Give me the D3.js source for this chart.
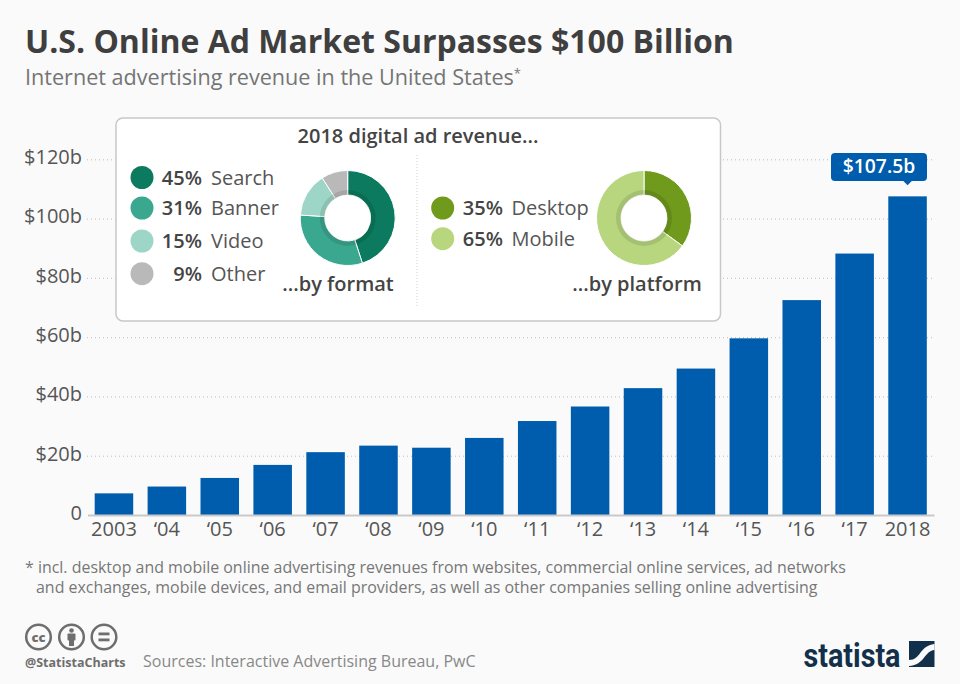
<!DOCTYPE html>
<html lang="en">

<head>
  <meta charset="UTF-8">
  <title>U.S. Online Ad Market Surpasses $100 Billion</title>
  <style>
    * {
      box-sizing: border-box;
    }

    html, body {
      margin: 0;
      padding: 0;
      background: #fafafa;
    }

    svg {
      display: block;
      font-family: "Open Sans", sans-serif;
    }

    .grid .domain {
      display: none;
    }

    .grid line {
      stroke: #bdbdbd;
      stroke-dasharray: 1 3;
    }

    .grid text, .years text {
      fill: #555;
      font-family: "Open Sans", sans-serif;
      font-size: 20px;
    }

    .years line {
      display: none;
    }

    .years .domain {
      stroke: #c9c9c9;
      stroke-width: 2px;
    }
  </style>
</head>

<body>
  <svg id="chart" width="960" height="684"></svg>

  <script src="https://cdnjs.cloudflare.com/ajax/libs/d3/7.8.5/d3.min.js"></script>
  <script>
    'use strict';

    const years = ['2003', '‘04', '‘05', '‘06', '‘07', '‘08', '‘09', '‘10', '‘11', '‘12', '‘13', '‘14', '‘15', '‘16', '‘17', '2018'];
    const revenue = [7.3, 9.6, 12.5, 16.9, 21.2, 23.4, 22.7, 26, 31.7, 36.6, 42.8, 49.4, 59.6, 72.5, 88.2, 107.5];
    const yTicks = [0, 20, 40, 60, 80, 100, 120];

    const formatLabels = ['Search', 'Banner', 'Video', 'Other'];
    const formatShares = [45, 31, 15, 9];
    const formatColors = ['#0b7a5e', '#3aa88f', '#9dd6c6', '#b9b9b9'];

    const platformLabels = ['Desktop', 'Mobile'];
    const platformShares = [35, 65];
    const platformColors = ['#6f9a1c', '#b7d67e'];

    const footnoteLines = [
      '* incl. desktop and mobile online advertising revenues from websites, commercial online services, ad networks',
      'and exchanges, mobile devices, and email providers, as well as other companies selling online advertising'
    ];

    const svg = d3.select('#chart');

    // scales
    const x = d3.scaleBand()
      .domain(years)
      .range([87.5, 934])
      .paddingInner(0.272)
      .paddingOuter(0.136);

    const y = d3.scaleLinear()
      .domain([0, 120])
      .range([515, 159.3]);

    // title
    svg.append('text')
      .attr('x', 25).attr('y', 52.5)
      .attr('font-size', 32).attr('font-weight', 700).attr('fill', '#3f3f3f')
      .text('U.S. Online Ad Market Surpasses $100 Billion');

    const sub = svg.append('text')
      .attr('x', 25).attr('y', 85)
      .attr('font-size', 21.6).attr('fill', '#757575')
      .text('Internet advertising revenue in the United States');
    sub.append('tspan').attr('dy', -7).attr('font-size', 13).text('*');

    // y axis + grid
    svg.append('g')
      .attr('class', 'grid')
      .attr('transform', 'translate(87,0)')
      .call(d3.axisLeft(y)
        .tickValues(yTicks)
        .tickSize(-847)
        .tickPadding(5)
        .tickFormat(d => d === 0 ? '0' : `$${d}b`))
      .call(g => g.selectAll('.tick').filter(d => d === 0).select('line').remove())
      .call(g => g.selectAll('.tick text').attr('dy', '0.22em'));

    // bars
    svg.append('g')
      .selectAll('rect')
      .data(revenue)
      .join('rect')
      .attr('x', (d, i) => x(years[i]))
      .attr('y', d => y(d))
      .attr('width', x.bandwidth())
      .attr('height', d => y(0) - y(d))
      .attr('fill', '#005cad');

    // x axis
    svg.append('g')
      .attr('class', 'years')
      .attr('transform', `translate(0,${y(0)})`)
      .call(d3.axisBottom(x).tickSize(0).tickPadding(7).tickSizeOuter(0));

    // label over last bar
    const lastX = x(years[years.length - 1]) + x.bandwidth() / 2;
    const lastY = y(revenue[revenue.length - 1]);
    svg.append('path')
      .attr('d', `M${lastX - 5},${lastY - 16} L${lastX},${lastY - 11} L${lastX + 5},${lastY - 16} Z`)
      .attr('fill', '#005cad');
    svg.append('rect')
      .attr('x', 831).attr('y', 153)
      .attr('width', 96).attr('height', 28).attr('rx', 4)
      .attr('fill', '#005cad');
    svg.append('text')
      .attr('x', 879).attr('y', 173)
      .attr('text-anchor', 'middle')
      .attr('font-size', 19.3).attr('font-weight', 600).attr('fill', '#fff')
      .text(`$${revenue[revenue.length - 1]}b`);

    // inset panel
    svg.append('rect')
      .attr('x', 116).attr('y', 118)
      .attr('width', 604.5).attr('height', 203).attr('rx', 7)
      .attr('fill', '#fff').attr('stroke', '#c8c8c8').attr('stroke-width', 1.5);

    svg.append('line')
      .attr('x1', 417).attr('x2', 417).attr('y1', 155).attr('y2', 307)
      .attr('stroke', '#cfcfcf').attr('stroke-dasharray', '1 2');

    svg.append('text')
      .attr('x', 418).attr('y', 143)
      .attr('text-anchor', 'middle')
      .attr('font-size', 20).attr('font-weight', 600).attr('fill', '#444')
      .text('2018 digital ad revenue...');

    function legend(labels, shares, colors, rows, cx, pctEnd, labelX) {
      const g = svg.append('g');
      labels.forEach((label, i) => {
        g.append('circle')
          .attr('cx', cx).attr('cy', rows[i]).attr('r', 11.5)
          .attr('fill', colors[i]);
        g.append('text')
          .attr('x', pctEnd).attr('y', rows[i] + 7)
          .attr('text-anchor', 'end')
          .attr('font-size', 20).attr('font-weight', 600).attr('fill', '#444')
          .text(`${shares[i]}%`);
        g.append('text')
          .attr('x', labelX).attr('y', rows[i] + 7)
          .attr('font-size', 20).attr('fill', '#555')
          .text(label);
      });
    }

    function donut(shares, colors, cx, cy, caption, captionX) {
      const g = svg.append('g').attr('transform', `translate(${cx},${cy})`);
      const pie = d3.pie().sort(null);
      const arc = d3.arc().innerRadius(23).outerRadius(47.5);
      g.selectAll('path.slice')
        .data(pie(shares))
        .join('path')
        .attr('class', 'slice')
        .attr('d', arc)
        .attr('fill', (d, i) => colors[i])
        .attr('stroke', '#fff')
        .attr('stroke-width', 1);
      // darker ring round the hole
      g.append('path')
        .attr('d', d3.arc().innerRadius(23).outerRadius(28).startAngle(0).endAngle(2 * Math.PI)())
        .attr('fill', '#000').attr('opacity', 0.1);
      svg.append('text')
        .attr('x', captionX).attr('y', 291)
        .attr('text-anchor', 'middle')
        .attr('font-size', 20).attr('font-weight', 600).attr('fill', '#444')
        .text(caption);
    }

    legend(formatLabels, formatShares, formatColors, [177.5, 208, 241, 273.7], 142, 202, 211);
    donut(formatShares, formatColors, 347.7, 218, '...by format', 338);

    legend(platformLabels, platformShares, platformColors, [208, 238.7], 442.7, 503, 511.5);
    donut(platformShares, platformColors, 644, 218, '...by platform', 637);

    // footnote
    svg.append('g')
      .selectAll('text')
      .data(footnoteLines)
      .join('text')
      .attr('x', (d, i) => i === 0 ? 25 : 36)
      .attr('y', (d, i) => 572.5 + i * 20)
      .attr('font-size', 15.95).attr('fill', '#777')
      .text(d => d);

    // cc icons
    const icons = svg.append('g').attr('fill', 'none').attr('stroke', '#6e6e6e').attr('stroke-width', 2.5);
    [38.5, 71.5, 104].forEach(cx => icons.append('circle').attr('cx', cx).attr('cy', 637).attr('r', 12.3));
    svg.append('text')
      .attr('x', 38.5).attr('y', 641.5)
      .attr('text-anchor', 'middle')
      .attr('font-size', 13).attr('font-weight', 800).attr('fill', '#6e6e6e')
      .text('cc');
    svg.append('circle').attr('cx', 71.5).attr('cy', 630.5).attr('r', 2.3).attr('fill', '#6e6e6e');
    svg.append('rect').attr('x', 67.5).attr('y', 633.5).attr('width', 8).attr('height', 7).attr('rx', 1).attr('fill', '#6e6e6e');
    svg.append('rect').attr('x', 69).attr('y', 640).attr('width', 5).attr('height', 6).attr('fill', '#6e6e6e');
    svg.append('rect').attr('x', 98.5).attr('y', 632.5).attr('width', 11).attr('height', 2.8).attr('fill', '#6e6e6e');
    svg.append('rect').attr('x', 98.5).attr('y', 638.5).attr('width', 11).attr('height', 2.8).attr('fill', '#6e6e6e');

    svg.append('text')
      .attr('x', 25).attr('y', 667)
      .attr('font-size', 12.5).attr('font-weight', 700).attr('fill', '#6e6e6e')
      .text('@StatistaCharts');

    svg.append('text')
      .attr('x', 143).attr('y', 667)
      .attr('font-size', 16).attr('fill', '#888')
      .text('Sources: Interactive Advertising Bureau, PwC');

    // statista logo
    svg.append('text')
      .attr('x', 803.5).attr('y', 666.5)
      .attr('font-family', '"Roboto", sans-serif')
      .attr('font-size', 34).attr('font-weight', 700).attr('fill', '#13304a')
      .attr('textLength', 97).attr('lengthAdjust', 'spacingAndGlyphs')
      .text('statista');
    svg.append('rect')
      .attr('x', 909).attr('y', 641).attr('width', 25.5).attr('height', 26)
      .attr('fill', '#13304a');
    svg.append('path')
      .attr('d', 'M909,660 C921,660 919,646 934.5,644 L934.5,650 C924,651 925,665 909,666 Z')
      .attr('fill', '#fafafa');
  </script>
</body>

</html>
